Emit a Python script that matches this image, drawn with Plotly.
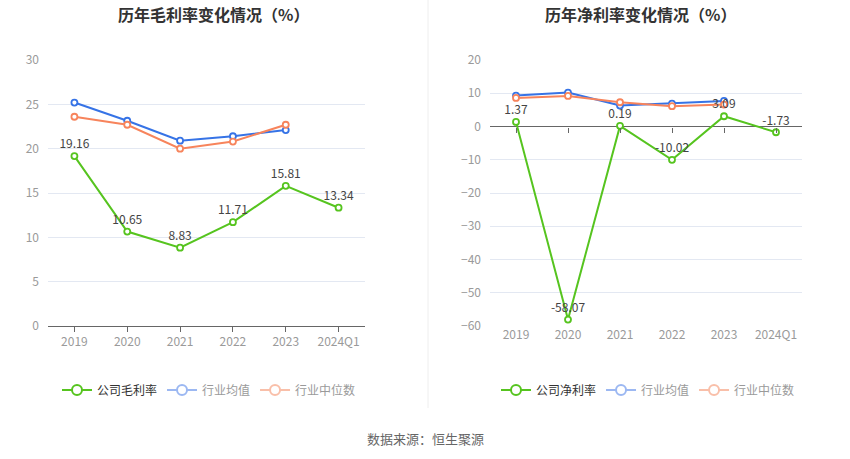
import plotly.graph_objects as go

categories = ["2019", "2020", "2021", "2022", "2023", "2024Q1"]

gross_company = [19.16, 10.65, 8.83, 11.71, 15.81, 13.34]
gross_ind_avg = [25.2, 23.15, 20.9, 21.4, 22.1, None]
gross_ind_med = [23.6, 22.7, 20.0, 20.8, 22.7, None]

net_company = [1.37, -58.07, 0.19, -10.02, 3.09, -1.73]
net_ind_avg = [9.3, 10.2, 6.3, 6.9, 7.7, None]
net_ind_med = [8.6, 9.2, 7.3, 6.1, 6.6, None]

gross_labels = [f"{v:.2f}" for v in gross_company]
net_labels = [f"{v:.2f}" for v in net_company]

GREEN = "#56c41f"
BLUE = "#3673e6"
ORANGE = "#f7845c"
BLUE_L = "#9cb8f2"
ORANGE_L = "#f9bfa9"
FONT = "Noto Sans CJK SC"

fig = go.Figure()


def add_series(xa, ya, y, color, text=None):
    fig.add_trace(go.Scatter(
        x=categories, y=y, xaxis=xa, yaxis=ya,
        mode="lines+markers+text" if text else "lines+markers",
        text=text, textposition="top center",
        textfont=dict(size=12, color="#444", family=FONT),
        line=dict(color=color, width=2),
        marker=dict(symbol="circle", size=6, color="white",
                    line=dict(color=color, width=1.8)),
        showlegend=False, cliponaxis=False, hoverinfo="skip",
    ))


# helper trace so the zero-line tick axis of the right panel is drawn
fig.add_trace(go.Scatter(x=[None], y=[None], xaxis="x3", yaxis="y2",
                         mode="lines", showlegend=False, hoverinfo="skip"))

# left panel
add_series("x", "y", gross_ind_avg, BLUE)
add_series("x", "y", gross_ind_med, ORANGE)
add_series("x", "y", gross_company, GREEN, gross_labels)
# right panel
add_series("x2", "y2", net_ind_avg, BLUE)
add_series("x2", "y2", net_ind_med, ORANGE)
add_series("x2", "y2", net_company, GREEN, net_labels)


def add_legend_item(name, color, legend, dark):
    label = name if dark else f"<span style='color:#9a9a9a'>{name}</span>"
    fig.add_trace(go.Scatter(
        x=[None], y=[None], mode="lines+markers", name=label,
        line=dict(color=color, width=2),
        marker=dict(symbol="circle", size=10, color="white",
                    line=dict(color=color, width=2)),
        legend=legend, showlegend=True, hoverinfo="skip",
    ))


add_legend_item("公司毛利率", GREEN, "legend", True)
add_legend_item("行业均值", BLUE_L, "legend", False)
add_legend_item("行业中位数", ORANGE_L, "legend", False)
add_legend_item("公司净利率", GREEN, "legend2", True)
add_legend_item("行业均值", BLUE_L, "legend2", False)
add_legend_item("行业中位数", ORANGE_L, "legend2", False)

ydom = [1 - 326 / 459, 1 - 60 / 459]
grid = "#e3e8f2"
tickfont = dict(size=12, color="#9a9a9a", family=FONT)
xrange = [-0.5, len(categories) - 0.5]
y2range = [-60, 20]
zero_pos = ydom[0] + (0 - y2range[0]) / (y2range[1] - y2range[0]) * (ydom[1] - ydom[0])

fig.update_layout(
    width=850, height=459,
    margin=dict(l=0, r=0, t=0, b=0),
    paper_bgcolor="white", plot_bgcolor="white",
    font=dict(family=FONT, color="#333"),
    xaxis=dict(domain=[48 / 850, 365 / 850], type="category", range=xrange,
               showline=True, linecolor="#666", linewidth=1,
               ticks="outside", ticklen=5, tickcolor="#666",
               tickfont=tickfont, showgrid=False, automargin=False),
    yaxis=dict(domain=ydom, range=[0, 30], dtick=5, showgrid=True,
               gridcolor=grid, zeroline=False, showline=False,
               tickfont=tickfont, ticks="", ticklabelstandoff=8,
               automargin=False),
    xaxis2=dict(domain=[490 / 850, 802 / 850], type="category", range=xrange,
                anchor="y2", showline=False, ticks="",
                tickfont=tickfont, showgrid=False, automargin=False),
    xaxis3=dict(domain=[490 / 850, 802 / 850], type="linear", range=xrange,
                overlaying="x2", anchor="free", position=zero_pos,
                side="bottom", tickmode="array",
                tickvals=list(range(len(categories))),
                showticklabels=False, ticks="outside", ticklen=5,
                tickcolor="#666", showline=False, showgrid=False,
                zeroline=False, automargin=False),
    yaxis2=dict(domain=ydom, range=y2range, dtick=10, anchor="x2",
                showgrid=True, gridcolor=grid, zeroline=True,
                zerolinecolor="#666", zerolinewidth=1, showline=False,
                tickfont=tickfont, ticks="", ticklabelstandoff=8,
                automargin=False),
    legend=dict(orientation="h", x=209 / 850, xanchor="center",
                y=1 - 390 / 459, yanchor="middle",
                font=dict(size=12, color="#333", family=FONT),
                itemwidth=30, bgcolor="rgba(0,0,0,0)"),
    legend2=dict(orientation="h", x=648 / 850, xanchor="center",
                 y=1 - 390 / 459, yanchor="middle",
                 font=dict(size=12, color="#333", family=FONT),
                 itemwidth=30, bgcolor="rgba(0,0,0,0)"),
    annotations=[
        dict(text="<b>历年毛利率变化情况（%）</b>", x=213 / 850, y=1 - 14 / 459,
             xref="paper", yref="paper", showarrow=False,
             xanchor="center", yanchor="middle",
             font=dict(size=16, color="#333", family=FONT)),
        dict(text="<b>历年净利率变化情况（%）</b>", x=640 / 850, y=1 - 14 / 459,
             xref="paper", yref="paper", showarrow=False,
             xanchor="center", yanchor="middle",
             font=dict(size=16, color="#333", family=FONT)),
        dict(text="数据来源：恒生聚源", x=425 / 850, y=1 - 438 / 459,
             xref="paper", yref="paper", showarrow=False,
             xanchor="center", yanchor="middle",
             font=dict(size=13, color="#666", family=FONT)),
    ],
    shapes=[
        dict(type="line", xref="paper", yref="paper",
             x0=428 / 850, x1=428 / 850, y0=1 - 408 / 459, y1=1,
             line=dict(color="#eeeeee", width=1)),
    ],
)

fig.write_html("out.html", config={"displayModeBar": False},
               post_script="document.body.style.margin='0px';")
